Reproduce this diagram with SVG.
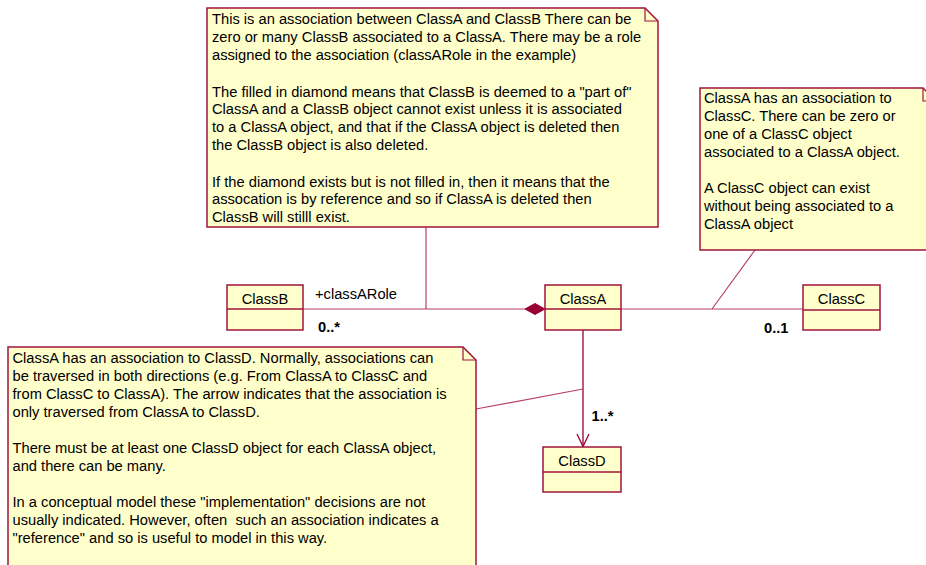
<svg xmlns="http://www.w3.org/2000/svg" width="926" height="565" viewBox="0 0 926 565">
<style>
text{font-family:"Liberation Sans",Arial,sans-serif;font-size:14.7px;fill:#000}
.box{fill:#ffffcc;stroke:#a0143c;stroke-width:1.5}
.note{fill:#ffffcc;stroke:#a0143c;stroke-width:1.5}
.fold{fill:none;stroke:#a0143c;stroke-width:1.2}
.ln{fill:none;stroke:#b8406a;stroke-width:1.2}
.dk{fill:none;stroke:#990033;stroke-width:1.3}
.mult{font-weight:bold}
.nm{text-anchor:middle}
</style>
<rect width="926" height="565" fill="#ffffff"/>
<g id="connectors">
<line class="ln" x1="303" y1="309" x2="526" y2="309"/>
<polygon points="525,309 535,303.5 545,309 535,314.5" fill="#990033" stroke="#990033" stroke-width="1"/>
<line class="ln" x1="621" y1="309" x2="803" y2="309"/>
<line class="dk" x1="583" y1="330" x2="583" y2="446.5"/>
<polyline class="dk" points="577,434 583,446.5 589,434"/>
<line class="ln" x1="426" y1="227" x2="426" y2="309"/>
<line class="ln" x1="755" y1="250" x2="712" y2="309"/>
<line class="ln" x1="583" y1="389" x2="476" y2="409"/>
<text x="315" y="298.5">+classARole</text>
<text class="mult" x="318" y="331.5">0..*</text>
<text class="mult" x="764" y="332.5">0..1</text>
<text class="mult" x="591.5" y="420.5">1..*</text>
</g>
<g id="note1">
<path class="note" d="M207,8 H645 L658,21 V227 H207 Z"/>
<polyline class="fold" points="645,8 645,21 658,21"/>
<text x="212" y="24">This is an association between ClassA and ClassB There can be</text>
<text x="212" y="42">zero or many ClassB associated to a ClassA. There may be a role</text>
<text x="212" y="60">assigned to the association (classARole in the example)</text>
<text x="212" y="96.5">The filled in diamond means that ClassB is deemed to a "part of"</text>
<text x="212" y="114">ClassA and a ClassB object cannot exist unless it is associated</text>
<text x="212" y="132">to a ClassA object, and that if the ClassA object is deleted then</text>
<text x="212" y="150">the ClassB object is also deleted.</text>
<text x="212" y="186.5">If the diamond exists but is not filled in, then it means that the</text>
<text x="212" y="204">assocation is by reference and so if ClassA is deleted then</text>
<text x="212" y="222">ClassB will stilll exist.</text>
</g>
<g id="note2">
<path class="note" d="M700,88 H923 L936,101 V250 H700 Z"/>
<polyline class="fold" points="923,88 923,101 936,101"/>
<text x="704" y="103.3">ClassA has an association to</text>
<text x="704" y="121.3">ClassC. There can be zero or</text>
<text x="704" y="139.3">one of a ClassC object</text>
<text x="704" y="157.3">associated to a ClassA object.</text>
<text x="704" y="193.3">A ClassC object can exist</text>
<text x="704" y="211.3">without being associated to a</text>
<text x="704" y="229.3">ClassA object</text>
</g>
<g id="note3">
<path class="note" d="M8,347 H463 L476,360 V580 H8 Z"/>
<polyline class="fold" points="463,347 463,360 476,360"/>
<text x="12.5" y="362.7">ClassA has an association to ClassD. Normally, associations can</text>
<text x="12.5" y="380.7">be traversed in both directions (e.g. From ClassA to ClassC and</text>
<text x="12.5" y="398.7">from ClassC to ClassA). The arrow indicates that the association is</text>
<text x="12.5" y="416.7">only traversed from ClassA to ClassD.</text>
<text x="12.5" y="452.7">There must be at least one ClassD object for each ClassA object,</text>
<text x="12.5" y="470.7">and there can be many.</text>
<text x="12.5" y="506.7">In a conceptual model these "implementation" decisions are not</text>
<text x="12.5" y="524.7" xml:space="preserve">usually indicated. However, often  such an association indicates a</text>
<text x="12.5" y="542.7">"reference" and so is useful to model in this way.</text>
</g>
<g id="classB">
<rect class="box" x="227" y="285" width="76" height="45"/>
<line class="box" x1="227" y1="309" x2="303" y2="309"/>
<text class="nm" x="265" y="304">ClassB</text>
</g>
<g id="classA">
<rect class="box" x="545" y="285" width="76" height="45"/>
<line class="box" x1="545" y1="309" x2="621" y2="309"/>
<text class="nm" x="583" y="304">ClassA</text>
</g>
<g id="classC">
<rect class="box" x="803" y="285" width="77" height="45"/>
<line class="box" x1="803" y1="310" x2="880" y2="310"/>
<text class="nm" x="841.5" y="304">ClassC</text>
</g>
<g id="classD">
<rect class="box" x="543" y="447" width="78" height="45"/>
<line class="box" x1="543" y1="472" x2="621" y2="472"/>
<text class="nm" x="582" y="465.5">ClassD</text>
</g>
</svg>
